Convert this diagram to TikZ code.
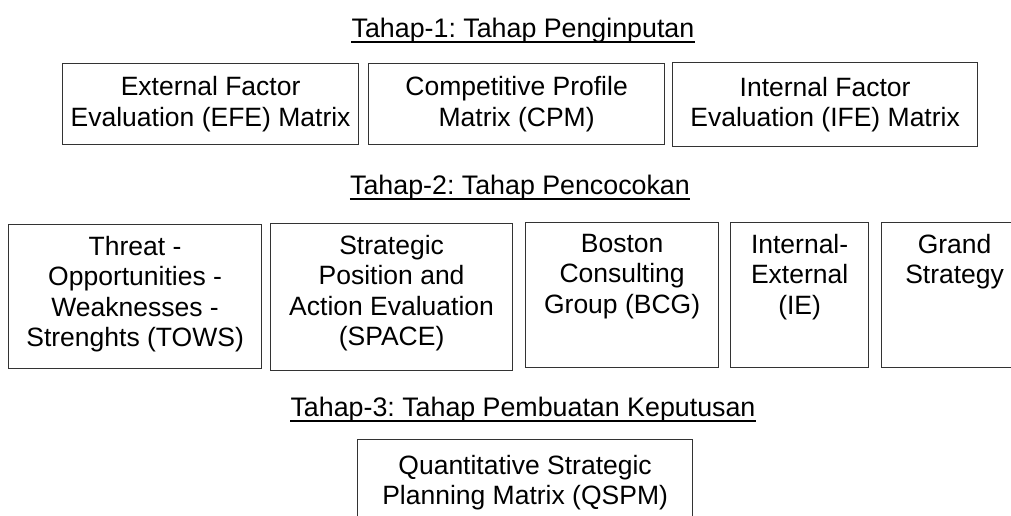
\documentclass[tikz,border=0pt]{standalone}
\usepackage{fontspec}
\setmainfont{Liberation Sans}
\frenchspacing
\begin{document}
\begin{tikzpicture}[x=1pt,y=-1pt,
  box/.style={draw=black!80, line width=1.2pt, anchor=north west, inner sep=0pt},
  boxtext/.style={font=\fontsize{26.5}{30.5}\selectfont, align=center, inner sep=0pt},
  heading/.style={font=\fontsize{26.8}{30}\selectfont, inner sep=0pt, anchor=base},
  uline/.style={line width=1.6pt}]
\useasboundingbox (0,0) rectangle (1011,515);
\clip (0,0) rectangle (1011,515);

% Stage 1: input stage
\node[heading] (h1) at (523,37) {Tahap-1: Tahap Penginputan};
\draw[uline] ([yshift=-5pt]h1.base west) -- ([yshift=-5pt]h1.base east);

\node[box, minimum width=296, minimum height=81] (efe) at (62,63) {};
\node[boxtext] (efe-t) at (efe.center) {External Factor\\Evaluation (EFE) Matrix};
\node[box, minimum width=296, minimum height=81] (cpm) at (368,63) {};
\node[boxtext] (cpm-t) at (cpm.center) {Competitive Profile\\Matrix (CPM)};
\node[box, minimum width=305, minimum height=84] (ife) at (672,62) {};
\node[boxtext] (ife-t) at (ife.center) {Internal Factor\\Evaluation (IFE) Matrix};

% Stage 2: matching stage
\node[heading] (h2) at (520,194) {Tahap-2: Tahap Pencocokan};
\draw[uline] ([yshift=-5pt]h2.base west) -- ([yshift=-5pt]h2.base east);

\node[box, minimum width=253, minimum height=144] (tows) at (8,224) {};
\node[boxtext, anchor=north] (tows-t) at ([yshift=-12pt]tows.north) {Threat -\\Opportunities -\\Weaknesses -\\Strenghts (TOWS)};
\node[box, minimum width=242, minimum height=147] (space) at (270,223) {};
\node[boxtext, anchor=north] (space-t) at ([yshift=-12pt]space.north) {Strategic\\Position and\\Action Evaluation\\(SPACE)};
\node[box, minimum width=193, minimum height=145] (bcg) at (525,222) {};
\node[boxtext, anchor=north] (bcg-t) at ([yshift=-12pt]bcg.north) {Boston\\Consulting\\Group (BCG)};
\node[box, minimum width=138, minimum height=145] (ie) at (730,222) {};
\node[boxtext, anchor=north] (ie-t) at ([yshift=-12pt]ie.north) {Internal-\\External\\(IE)};
\node[box, minimum width=146, minimum height=145] (grand) at (881,222) {};
\node[boxtext, anchor=north] (grand-t) at ([yshift=-12pt]grand.north) {Grand\\Strategy};

% Stage 3: decision stage
\node[heading] (h3) at (523,416) {Tahap-3: Tahap Pembuatan Keputusan};
\draw[uline] ([yshift=-5pt]h3.base west) -- ([yshift=-5pt]h3.base east);

\node[box, minimum width=335, minimum height=100] (qspm) at (357,439) {};
\node[boxtext, anchor=north] (qspm-t) at ([yshift=-16pt]qspm.north) {Quantitative Strategic\\Planning Matrix (QSPM)};
\end{tikzpicture}
\end{document}
